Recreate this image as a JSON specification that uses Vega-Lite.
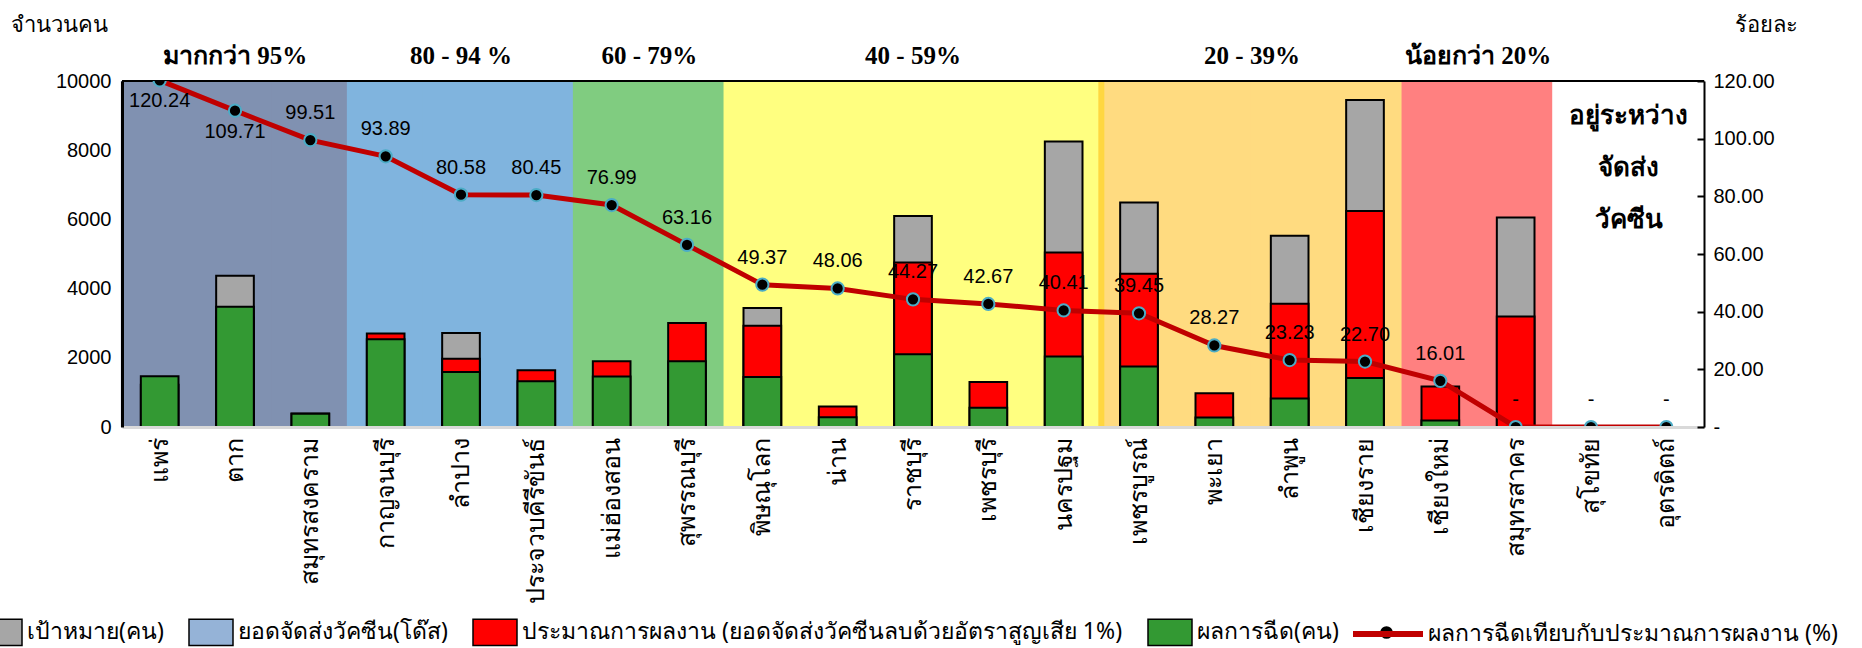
{
  "$schema": "https://vega.github.io/schema/vega-lite/v6.json",
  "width": 1582,
  "height": 346,
  "autosize": {"type": "none"},
  "padding": {"left": 122, "top": 81, "right": 158, "bottom": 221},
  "background": "white",
  "config": {"view": {"stroke": null}, "font": "Liberation Sans"},
  "data": {"values": [
    {"province": "แพร่", "band": "มากกว่า 95%", "target": null, "estimate": 1223, "injected": 1470, "pct": 120.24},
    {"province": "ตาก", "band": "มากกว่า 95%", "target": 4370, "estimate": 3167, "injected": 3475, "pct": 109.71},
    {"province": "สมุทรสงคราม", "band": "มากกว่า 95%", "target": null, "estimate": 387, "injected": 385, "pct": 99.51},
    {"province": "กาญจนบุรี", "band": "80 - 94 %", "target": null, "estimate": 2700, "injected": 2535, "pct": 93.89},
    {"province": "ลำปาง", "band": "80 - 94 %", "target": 2714, "estimate": 1975, "injected": 1591, "pct": 80.58},
    {"province": "ประจวบคีรีขันธ์", "band": "80 - 94 %", "target": null, "estimate": 1640, "injected": 1319, "pct": 80.45},
    {"province": "แม่ฮ่องสอน", "band": "60 - 79%", "target": null, "estimate": 1900, "injected": 1463, "pct": 76.99},
    {"province": "สุพรรณบุรี", "band": "60 - 79%", "target": null, "estimate": 3003, "injected": 1897, "pct": 63.16},
    {"province": "พิษณุโลก", "band": "40 - 59%", "target": 3436, "estimate": 2926, "injected": 1445, "pct": 49.37},
    {"province": "น่าน", "band": "40 - 59%", "target": null, "estimate": 590, "injected": 284, "pct": 48.06},
    {"province": "ราชบุรี", "band": "40 - 59%", "target": 6100, "estimate": 4755, "injected": 2105, "pct": 44.27},
    {"province": "เพชรบุรี", "band": "40 - 59%", "target": null, "estimate": 1300, "injected": 555, "pct": 42.67},
    {"province": "นครปฐม", "band": "40 - 59%", "target": 8253, "estimate": 5044, "injected": 2038, "pct": 40.41},
    {"province": "เพชรบูรณ์", "band": "20 - 39%", "target": 6487, "estimate": 4427, "injected": 1746, "pct": 39.45},
    {"province": "พะเยา", "band": "20 - 39%", "target": null, "estimate": 972, "injected": 275, "pct": 28.27},
    {"province": "ลำพูน", "band": "20 - 39%", "target": 5524, "estimate": 3561, "injected": 827, "pct": 23.23},
    {"province": "เชียงราย", "band": "20 - 39%", "target": 9452, "estimate": 6246, "injected": 1418, "pct": 22.70},
    {"province": "เชียงใหม่", "band": "น้อยกว่า 20%", "target": null, "estimate": 1174, "injected": 188, "pct": 16.01},
    {"province": "สมุทรสาคร", "band": "น้อยกว่า 20%", "target": 6054, "estimate": 3195, "injected": null, "pct": 0},
    {"province": "สุโขทัย", "band": "อยู่ระหว่างจัดส่งวัคซีน", "target": null, "estimate": null, "injected": null, "pct": 0},
    {"province": "อุตรดิตถ์", "band": "อยู่ระหว่างจัดส่งวัคซีน", "target": null, "estimate": null, "injected": null, "pct": 0}
  ]},
  "resolve": {"scale": {"y": "independent", "color": "independent"}},
  "layer": [
    {
      "layer": [
        {
          "mark": {"type": "bar", "width": {"band": 1.03}},
          "encoding": {
            "x": {"field": "province", "type": "nominal", "sort": null,
              "scale": {"paddingInner": 0, "paddingOuter": 0,
                "domain": ["แพร่","ตาก","สมุทรสงคราม","กาญจนบุรี","ลำปาง","ประจวบคีรีขันธ์","แม่ฮ่องสอน","สุพรรณบุรี","พิษณุโลก","น่าน","ราชบุรี","เพชรบุรี","นครปฐม","เพชรบูรณ์","พะเยา","ลำพูน","เชียงราย","เชียงใหม่","สมุทรสาคร","สุโขทัย","อุตรดิตถ์"]},
              "axis": {"title": null, "labelAngle": -90, "labelAlign": "right", "labelBaseline": "middle", "labelFontSize": 25, "labelFont": "Noto Sans", "labelPadding": 10, "labelColor": "black", "ticks": false, "domainColor": "#D9D9D9", "domainWidth": 3, "zindex": 2}},
            "y": {"datum": 10000, "type": "quantitative", "scale": {"domain": [0, 10000], "nice": false},
              "axis": {"title": "จำนวนคน", "titleAngle": 0, "titleAlign": "left", "titleBaseline": "middle", "titleX": -112, "titleY": -57, "titleFontSize": 22, "titleFontWeight": "normal", "titleFont": "Noto Sans", "titleColor": "black",
                "values": [0,1000,2000,3000,4000,5000,6000,7000,8000,9000,10000], "format": "d", "labelOverlap": false, "labelFontSize": 20, "labelColor": "black", "labelPadding": 11, "ticks": false, "grid": false, "domainColor": "black", "domainWidth": 3, "zindex": 2}},
            "color": {"field": "band", "type": "nominal", "sort": null,
              "scale": {"domain": ["มากกว่า 95%","80 - 94 %","60 - 79%","40 - 59%","20 - 39%","น้อยกว่า 20%","อยู่ระหว่างจัดส่งวัคซีน"],
                "range": ["#8091B1","#80B4DE","#80CC80","#FFFF80","#FFDB80","#FF8080","#FFFFFF"]},
              "legend": null}
          }
        },
        {
          "data": {"values": [{"province": "เพชรบูรณ์"}]},
          "mark": {"type": "rule", "color": "#FFD740", "strokeWidth": 6},
          "encoding": {
            "x": {"field": "province", "type": "nominal", "sort": null, "bandPosition": 0},
            "y": {"datum": 0, "type": "quantitative"},
            "y2": {"datum": 10000}
          }
        },
        {
          "mark": {"type": "bar", "width": {"band": 0.5}, "stroke": "black", "strokeWidth": 2},
          "encoding": {
            "x": {"field": "province", "type": "nominal", "sort": null},
            "y": {"field": "target", "type": "quantitative"},
            "fill": {"datum": "เป้าหมาย(คน)", "type": "nominal",
              "scale": {"domain": ["เป้าหมาย(คน)","ยอดจัดส่งวัคซีน(โด๊ส)","ประมาณการผลงาน (ยอดจัดส่งวัคซีนลบด้วยอัตราสูญเสีย 1%)","ผลการฉีด(คน)"],
                "range": ["#A6A6A6","#95B3D7","#FF0000","#339933"]},
              "legend": {"orient": "none", "legendX": -145, "legendY": 528, "direction": "horizontal", "title": null,
                "symbolType": "M-1,-0.6H1V0.6H-1Z", "symbolSize": 1936, "symbolStrokeColor": "black", "symbolStrokeWidth": 1.5, "symbolOpacity": 1,
                "labelFontSize": 23, "labelFont": "Noto Sans", "labelColor": "black", "labelLimit": 1200, "labelOffset": 4, "columnPadding": 22}}
          }
        },
        {
          "mark": {"type": "bar", "width": {"band": 0.5}, "stroke": "black", "strokeWidth": 2},
          "encoding": {
            "x": {"field": "province", "type": "nominal", "sort": null},
            "y": {"field": "estimate", "type": "quantitative"},
            "fill": {"datum": "ประมาณการผลงาน (ยอดจัดส่งวัคซีนลบด้วยอัตราสูญเสีย 1%)", "type": "nominal"}
          }
        },
        {
          "mark": {"type": "bar", "width": {"band": 0.5}, "stroke": "black", "strokeWidth": 2},
          "encoding": {
            "x": {"field": "province", "type": "nominal", "sort": null},
            "y": {"field": "injected", "type": "quantitative"},
            "fill": {"datum": "ผลการฉีด(คน)", "type": "nominal"}
          }
        },
        {
          "data": {"values": [{}]},
          "mark": {"type": "rule", "color": "black", "strokeWidth": 2},
          "encoding": {"y": {"datum": 10000, "type": "quantitative"}}
        },
        {
          "data": {"values": [
            {"province": "ตาก", "title": "มากกว่า 95%"},
            {"province": "ลำปาง", "title": "80 - 94 %"},
            {"province": "ราชบุรี", "title": "40 - 59%"}
          ]},
          "mark": {"type": "text", "font": "Liberation Serif", "fontWeight": "bold", "fontSize": 25, "color": "black", "baseline": "middle", "dy": -25},
          "encoding": {
            "x": {"field": "province", "type": "nominal", "sort": null},
            "y": {"datum": 10000, "type": "quantitative"},
            "text": {"field": "title", "type": "nominal"}
          }
        },
        {
          "data": {"values": [
            {"province": "แม่ฮ่องสอน", "title": "60 - 79%"},
            {"province": "พะเยา", "title": "20 - 39%"},
            {"province": "เชียงใหม่", "title": "น้อยกว่า 20%"}
          ]},
          "mark": {"type": "text", "font": "Liberation Serif", "fontWeight": "bold", "fontSize": 25, "color": "black", "baseline": "middle", "dy": -25},
          "encoding": {
            "x": {"field": "province", "type": "nominal", "sort": null, "bandPosition": 1},
            "y": {"datum": 10000, "type": "quantitative"},
            "text": {"field": "title", "type": "nominal"}
          }
        },
        {
          "data": {"values": [{"province": "สุโขทัย"}]},
          "mark": {"type": "text", "text": ["อยู่ระหว่าง", "จัดส่ง", "วัคซีน"], "lineHeight": 52, "font": "Liberation Serif", "fontWeight": "bold", "fontSize": 26, "color": "black", "baseline": "middle", "align": "center"},
          "encoding": {
            "x": {"field": "province", "type": "nominal", "sort": null, "bandPosition": 1},
            "y": {"datum": 9000, "type": "quantitative"}
          }
        }
      ]
    },
    {
      "layer": [
        {
          "mark": {"type": "line", "strokeWidth": 5, "clip": true},
          "encoding": {
            "x": {"field": "province", "type": "nominal", "sort": null},
            "y": {"field": "pct", "type": "quantitative", "scale": {"domain": [0, 120], "nice": false},
              "axis": {"orient": "right", "title": "ร้อยละ", "titleAngle": 0, "titleAlign": "left", "titleBaseline": "middle", "titleX": 30, "titleY": -57, "titleFontSize": 22, "titleFontWeight": "normal", "titleFont": "Noto Sans", "titleColor": "black",
                "values": [0,20,40,60,80,100,120], "labelExpr": "datum.value === 0 ? '-' : format(datum.value, '.2f')", "labelOverlap": false, "labelFontSize": 20, "labelColor": "black", "labelPadding": 16, "ticks": true, "tickSize": -7, "tickColor": "black", "tickWidth": 2, "grid": false, "domainColor": "black", "domainWidth": 2, "zindex": 2}},
            "color": {"datum": "ผลการฉีดเทียบกับประมาณการผลงาน (%)", "type": "nominal", "scale": {"range": ["#C00000"]},
              "legend": {"orient": "none", "legendX": 1228, "legendY": 515, "title": null, "symbolType": "stroke", "symbolSize": 4900, "symbolStrokeWidth": 6, "symbolStrokeColor": "#C00000",
                "labelFontSize": 23, "labelFont": "Noto Sans", "labelColor": "black", "labelLimit": 900, "labelOffset": 2}}
          }
        },
        {
          "mark": {"type": "point", "filled": true, "fill": "black", "stroke": "#4BACC6", "strokeWidth": 2, "size": 150, "opacity": 1, "clip": true},
          "encoding": {
            "x": {"field": "province", "type": "nominal", "sort": null},
            "y": {"field": "pct", "type": "quantitative"},
            "shape": {"datum": "ผลการฉีดเทียบกับประมาณการผลงาน (%) ", "type": "nominal", "scale": {"range": ["circle"]},
              "legend": {"orient": "none", "legendX": 1257, "legendY": 544, "title": null, "symbolSize": 160, "symbolFillColor": "black", "symbolStrokeColor": "#4BACC6", "symbolStrokeWidth": 2, "symbolOpacity": 1, "labelExpr": "''", "labelFontSize": 1}}
          }
        },
        {
          "transform": [{"filter": "datum.province !== 'แพร่' && datum.province !== 'ตาก'"}],
          "mark": {"type": "text", "dy": -27, "fontSize": 20, "color": "black", "baseline": "middle"},
          "encoding": {
            "x": {"field": "province", "type": "nominal", "sort": null},
            "y": {"field": "pct", "type": "quantitative"},
            "text": {"condition": {"test": "datum.pct === 0", "value": "-"}, "field": "pct", "type": "quantitative", "format": ".2f"}
          }
        },
        {
          "transform": [{"filter": "datum.province === 'แพร่' || datum.province === 'ตาก'"}],
          "mark": {"type": "text", "dy": 21, "fontSize": 20, "color": "black", "baseline": "middle"},
          "encoding": {
            "x": {"field": "province", "type": "nominal", "sort": null},
            "y": {"field": "pct", "type": "quantitative"},
            "text": {"field": "pct", "type": "quantitative", "format": ".2f"}
          }
        }
      ]
    }
  ]
}
